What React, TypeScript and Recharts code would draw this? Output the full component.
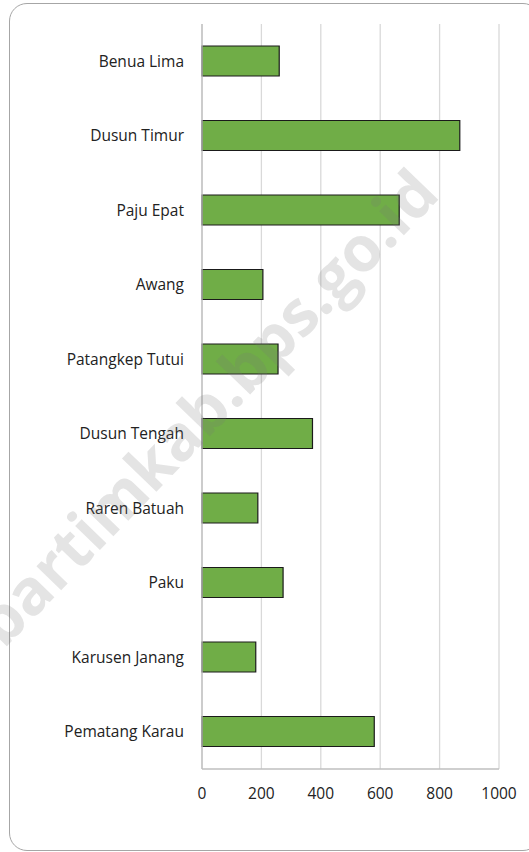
import { Bar, BarChart, CartesianGrid, XAxis, YAxis } from "recharts";

const villages = [
  "Benua Lima",
  "Dusun Timur",
  "Paju Epat",
  "Awang",
  "Patangkep Tutui",
  "Dusun Tengah",
  "Raren Batuah",
  "Paku",
  "Karusen Janang",
  "Pematang Karau",
];
const values = [260, 868, 664, 205, 256, 372, 188, 273, 181, 580];
const xTicks = [0, 200, 400, 600, 800, 1000];

const data = villages.map((name, i) => ({ name, value: values[i] }));

const font = "'Open Sans', 'Noto Sans', sans-serif";

export default function App() {
  return (
    <div style={{ position: "absolute", left: 0, top: 0, width: 529, height: 852, overflow: "hidden", background: "#fff" }}>
      <div
        style={{
          position: "absolute",
          left: 9,
          top: 3,
          width: 530,
          height: 846,
          border: "1px solid #a6a6a6",
          borderRadius: 18,
        }}
      />
      <BarChart
        width={529}
        height={852}
        data={data}
        layout="vertical"
        margin={{ top: 24, right: 30, bottom: 53, left: 0 }}
        style={{ fontFamily: font }}
      >
        <CartesianGrid horizontal={false} stroke="#d9d9d9" strokeWidth={1.3} />
        <XAxis
          type="number"
          domain={[0, 1000]}
          ticks={xTicks}
          interval={0}
          height={30}
          tickLine={false}
          axisLine={{ stroke: "#bfbfbf", strokeWidth: 1.3 }}
          tickMargin={13}
          tick={{ fill: "#222", fontSize: 15.5 }}
        />
        <YAxis
          type="category"
          dataKey="name"
          width={202}
          tickLine={false}
          axisLine={{ stroke: "#bfbfbf", strokeWidth: 1.3 }}
          tickMargin={12}
          tick={{ fill: "#222", fontSize: 15.5 }}
        />
        <Bar dataKey="value" fill="#70ad47" stroke="#1a1a1a" strokeWidth={1.2} barSize={30} isAnimationActive={false} />
      </BarChart>
      {/* site watermark, partly off the left edge as in the source */}
      <div
        style={{
          position: "absolute",
          left: 205,
          top: 406,
          transform: "translate(-50%, -50%) rotate(-46deg)",
          fontFamily: font,
          fontWeight: 700,
          fontSize: 63,
          color: "rgba(120,120,120,0.2)",
          whiteSpace: "nowrap",
          pointerEvents: "none",
        }}
      >
        bartimkab.bps.go.id
      </div>
    </div>
  );
}
